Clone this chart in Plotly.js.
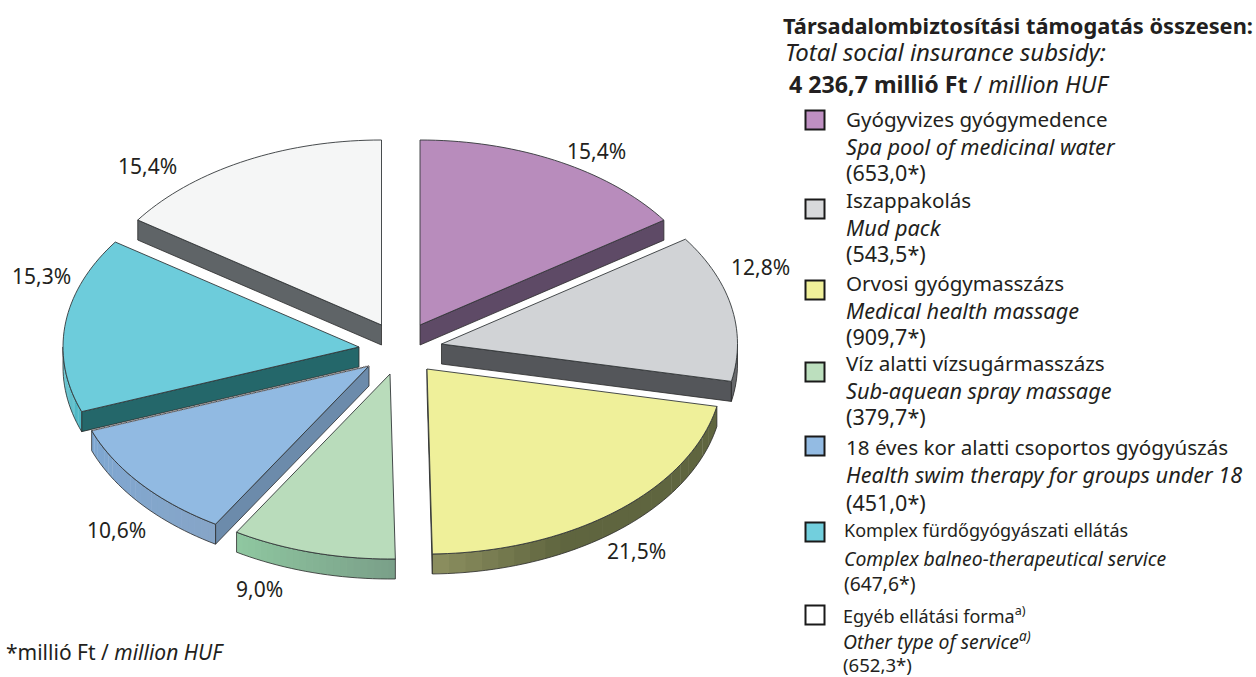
<!DOCTYPE html>
<html><head><meta charset="utf-8">
<script src="https://cdn.plot.ly/plotly-3.0.1.min.js"></script>
<style>html,body{margin:0;padding:0;background:#fff}#c{width:1256px;height:677px}</style></head>
<body><div id="c"></div>
<script>
// ---------- data ----------
const categories = ["Gyógyvizes gyógymedence","Iszappakolás","Orvosi gyógymasszázs","Víz alatti vízsugármasszázs","18 éves kor alatti csoportos gyógyúszás","Komplex fürdőgyógyászati ellátás","Egyéb ellátási forma"];
const categoriesEn = ["Spa pool of medicinal water","Mud pack","Medical health massage","Sub-aquean spray massage","Health swim therapy for groups under 18","Complex balneo-therapeutical service","Other type of service"];
const values = [653.0,543.5,909.7,379.7,451.0,647.6,652.3];
const valueLabels = ["(653,0*)","(543,5*)","(909,7*)","(379,7*)","(451,0*)","(647,6*)","(652,3*)"];
const percentLabels = ["15,4%","12,8%","21,5%","9,0%","10,6%","15,3%","15,4%"];

// ---------- drawing configuration ----------
const topColors  = ["#b88cbc","#d1d3d6","#eff09a","#b9dcbb","#91bae2","#6dccdb","#f5f6f6"];
const sideColors = ["#5e4a66","#54565a","#5f653f","#7a9f88","#6c8bab","#24676a","#5f6467"];
const arcStops = [["#5e4a66","#5e4a66"],["#47484c","#47484c"],["#5f653f","#5f653f","#5f653f","#8d9060"],["#7a9f88","#8fc8a0"],["#86a5c7","#7ea7d2"],["#4fb9c6","#4fb9c6"],["#5f6467","#5f6467"]];
const hubX = [420,441.5,427,390,369,359,381.5];
const hubY = [325,344,369,374,366,347,325];
const radX = 296, radY = 185, depth = 20;
const drawOrder = [6,0,1,5,4,3,2];
const labelX = [596,760,636,259,116,41,147];
const labelY = [151,267,551,589,530,276,166];
const swatchX = 815;
const swatchY = [120,209,290,372,446,532,615];
const swatchColors = ["#bf90c2","#d8d9db","#f0f09a","#bcdfbe","#93bbe3","#72cfdd","#ffffff"];
const legendTextX = [846,846,846,846,846,844,843];
const legendLineY = [[119,146,172],[200,227,253],[283,310,336],[363,390,416],[447,474,502],[530,558,583],[615,640,664]];
const nameSizes = [20.6,20.6,20.6,20.6,20.6,18,18];
const italicSizes = [21.7,21.7,21.7,21.7,21.7,19.4,19.4];
const valueSizes = [21.5,21.5,21.5,21.5,21.5,19.3,18.6];
const FONT = "'Noto Sans', 'Open Sans', sans-serif";
const INK = "#231f20";

// ---------- geometry from values ----------
const total = values.reduce((a,b)=>a+b,0);
const rad = d=>d*Math.PI/180;
const hex = c=>[1,3,5].map(i=>parseInt(c.substr(i,2),16));
function mix(stops,f){
  const p=f*(stops.length-1), i=Math.min(Math.floor(p),stops.length-2), t=p-i;
  const a=hex(stops[i]), b=hex(stops[i+1]);
  return "rgb("+a.map((v,j)=>Math.round(v+(b[j]-v)*t)).join(",")+")";
}
let acc=0;
const spans=values.map(v=>{const s=[acc,acc+v/total*360];acc=s[1];return s;});
const outer=(k,t,dz=0)=>[hubX[k]+radX*Math.sin(rad(t)),hubY[k]-radY*Math.cos(rad(t))+dz];
function arcPts(k,t0,t1,dz=0){
  const n=Math.max(2,Math.ceil((t1-t0)/1.5)),o=[];
  for(let i=0;i<=n;i++)o.push(outer(k,t0+(t1-t0)*i/n,dz));
  return o;
}
function poly(pts,fill,lineColor,lineW,name,dash){
  return {type:"scatter",mode:"lines",x:pts.map(p=>p[0]),y:pts.map(p=>p[1]),
    fill:fill?"toself":"none",fillcolor:fill||undefined,
    line:{color:lineColor||"rgba(0,0,0,0)",width:lineW||0,simplify:false,dash:dash||"solid"},
    showlegend:false,hoverinfo:name?"text":"skip",text:name,name:name||""};
}
const traces=[];
drawOrder.forEach(k=>{
  const [t0,t1]=spans[k];
  const hub=[hubX[k],hubY[k]], hubD=[hubX[k],hubY[k]+depth];
  const radial=[];
  if(t1>0&&t1<180)radial.push(t1);
  if(t0>180&&t0<360)radial.push(t0);
  radial.forEach(t=>traces.push(poly([hub,outer(k,t),outer(k,t,depth),hubD,hub],sideColors[k],"#2b2b2b",0.8)));
  const a0=Math.max(t0,90),a1=Math.min(t1,270);
  if(a1>a0){
    const bands=24;
    for(let b=0;b<bands;b++){
      const s=a0+(a1-a0)*b/bands,e=a0+(a1-a0)*(b+1)/bands+0.15;
      const pts=arcPts(k,s,Math.min(e,a1)).concat(arcPts(k,s,Math.min(e,a1),depth).reverse());
      pts.push(pts[0]);
      traces.push(poly(pts,mix(arcStops[k],(b+0.5)/bands)));
    }
    const rim=arcPts(k,a0,a1).concat(arcPts(k,a0,a1,depth).reverse());
    rim.push(rim[0]);
    traces.push(poly(rim,null,"#2b2b2b",0.8));
  }
  const face=[hub].concat(arcPts(k,t0,t1),[hub]);
  traces.push(poly(face,topColors[k],"#33383a",0.9,categories[k]+" "+percentLabels[k]));
});
// hatched seam where the teal wall meets the blue slice
traces.push(poly([[hubX[4],hubY[4]],outer(4,spans[4][1])],null,"#8f8788",2,null,"1px,1.5px"));
// legend swatches
traces.push({type:"scatter",mode:"markers",x:swatchY.map(()=>swatchX),y:swatchY,
  marker:{symbol:"square",size:19,color:swatchColors,line:{color:"#1a1a1a",width:2}},
  showlegend:false,hoverinfo:"text",text:categories});

// ---------- text ----------
const ann=(x,y,text,size,xanchor)=>({x,y,xref:"x",yref:"y",text,showarrow:false,xanchor:xanchor||"left",yanchor:"middle",
  borderpad:0,borderwidth:0,font:{family:FONT,size,color:INK},align:"left"});
const annotations=[];
percentLabels.forEach((t,i)=>annotations.push(ann(labelX[i],labelY[i],t,21,"center")));
annotations.push(ann(783,25,"<b>Társadalombiztosítási támogatás összesen:</b>",21.8));
annotations.push(ann(785,51,"<i>Total social insurance subsidy:</i>",24));
annotations.push(ann(789,84,"<b>4 236,7 millió Ft</b> / <i>million HUF</i>",23.2));
categories.forEach((c,i)=>{
  const sup=i===6?"<sup>a)</sup>":"";
  annotations.push(ann(legendTextX[i],legendLineY[i][0],c+sup,nameSizes[i]));
  annotations.push(ann(legendTextX[i],legendLineY[i][1],"<i>"+categoriesEn[i]+sup+"</i>",italicSizes[i]));
  annotations.push(ann(legendTextX[i],legendLineY[i][2],valueLabels[i],valueSizes[i]));
});
annotations.push(ann(6,652,"*millió Ft / <i>million HUF</i>",21));

Plotly.newPlot("c",traces,{
  width:1256,height:677,margin:{l:0,r:0,t:0,b:0},
  paper_bgcolor:"#fff",plot_bgcolor:"#fff",showlegend:false,
  xaxis:{range:[0,1256],visible:false,fixedrange:true},
  yaxis:{range:[677,0],visible:false,fixedrange:true},
  annotations,hovermode:"closest"
},{displayModeBar:false});
</script></body></html>
